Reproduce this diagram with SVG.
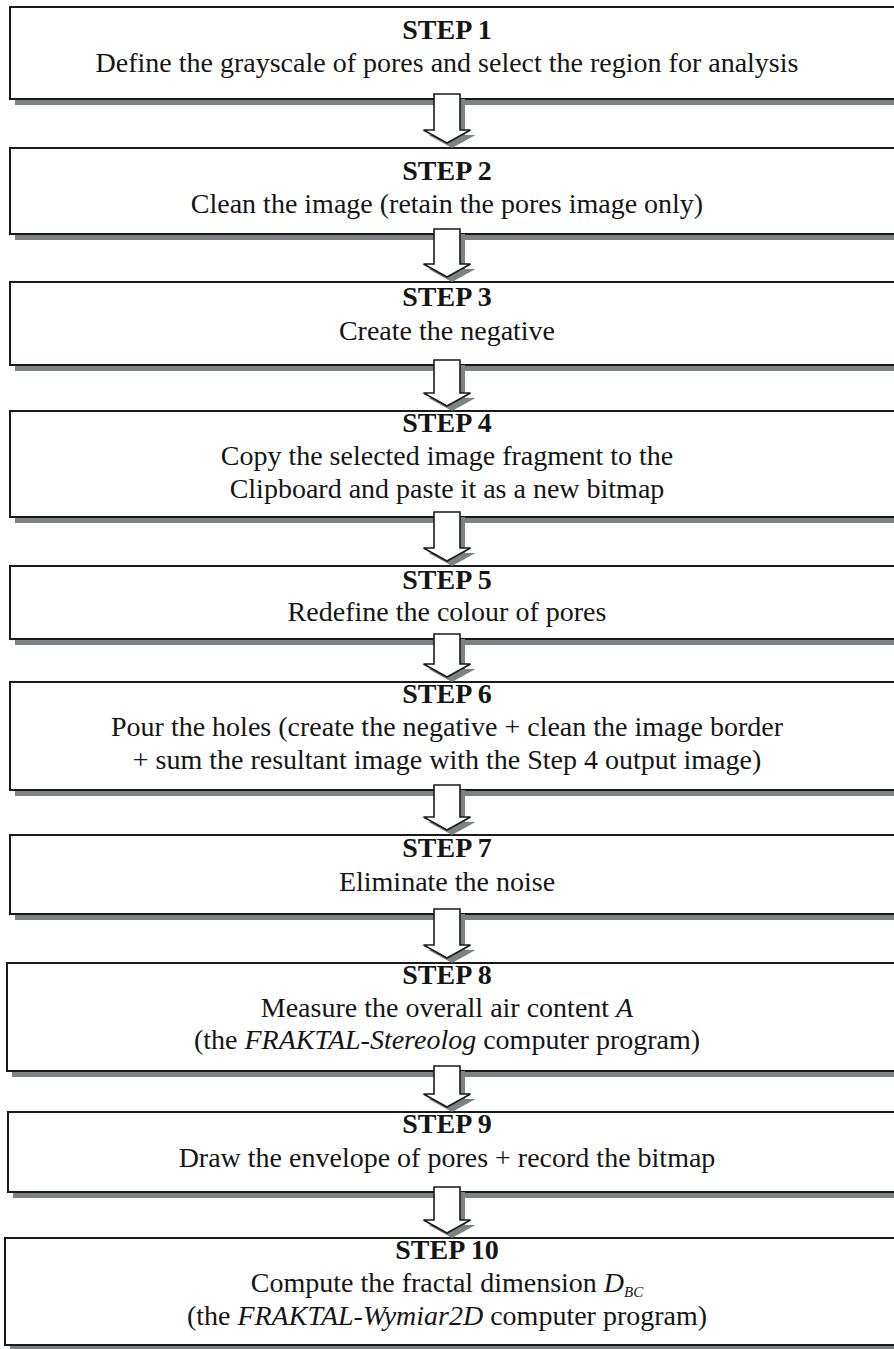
<svg xmlns="http://www.w3.org/2000/svg" width="894" height="1349" viewBox="0 0 894 1349">
<style>
.sh{fill:#7b8384}
.bx{fill:#fff;stroke:#1a1a1a;stroke-width:2}
.t{font-family:"Liberation Serif","Times New Roman",serif;font-size:28px;fill:#151515;text-anchor:middle}
.b{font-weight:bold}
.i{font-style:italic}
.ar{fill:#fff;stroke:#1a1a1a;stroke-width:1.6;stroke-linejoin:miter}
.as{fill:#7b8384}
</style>
<rect width="894" height="1349" fill="#fff"/>
<g id="step1">
<rect class="sh" x="15" y="13" width="900" height="92"/>
<rect class="bx" x="10" y="7" width="900" height="92"/>
<text class="t b" x="447" y="39">STEP 1</text>
<text class="t" x="447" y="72">Define the grayscale of pores and select the region for analysis</text>
</g>
<g id="step2">
<rect class="sh" x="15" y="154" width="900" height="86"/>
<rect class="bx" x="10" y="148" width="900" height="86"/>
<text class="t b" x="447" y="180">STEP 2</text>
<text class="t" x="447" y="213">Clean the image (retain the pores image only)</text>
</g>
<g id="step3">
<rect class="sh" x="15" y="288" width="900" height="83"/>
<rect class="bx" x="10" y="282" width="900" height="83"/>
<text class="t b" x="447" y="306">STEP 3</text>
<text class="t" x="447" y="340">Create the negative</text>
</g>
<g id="step4">
<rect class="sh" x="15" y="417" width="900" height="106"/>
<rect class="bx" x="10" y="411" width="900" height="106"/>
<text class="t b" x="447" y="432">STEP 4</text>
<text class="t" x="447" y="465">Copy the selected image fragment to the</text>
<text class="t" x="447" y="498">Clipboard and paste it as a new bitmap</text>
</g>
<g id="step5">
<rect class="sh" x="15" y="572" width="900" height="73"/>
<rect class="bx" x="10" y="566" width="900" height="73"/>
<text class="t b" x="447" y="589">STEP 5</text>
<text class="t" x="447" y="621">Redefine the colour of pores</text>
</g>
<g id="step6">
<rect class="sh" x="15" y="688" width="900" height="108"/>
<rect class="bx" x="10" y="682" width="900" height="108"/>
<text class="t b" x="447" y="703">STEP 6</text>
<text class="t" x="447" y="736">Pour the holes (create the negative + clean the image border</text>
<text class="t" x="447" y="769">+ sum the resultant image with the Step 4 output image)</text>
</g>
<g id="step7">
<rect class="sh" x="15" y="841" width="900" height="79"/>
<rect class="bx" x="10" y="835" width="900" height="79"/>
<text class="t b" x="447" y="857">STEP 7</text>
<text class="t" x="447" y="891">Eliminate the noise</text>
</g>
<g id="step8">
<rect class="sh" x="12" y="969" width="900" height="108"/>
<rect class="bx" x="7" y="963" width="900" height="108"/>
<text class="t b" x="447" y="984">STEP 8</text>
<text class="t" x="447" y="1017">Measure the overall air content <tspan class="i">A</tspan></text>
<text class="t" x="447" y="1049">(the <tspan class="i">FRAKTAL-Stereolog</tspan> computer program)</text>
</g>
<g id="step9">
<rect class="sh" x="13" y="1118" width="900" height="80"/>
<rect class="bx" x="8" y="1112" width="900" height="80"/>
<text class="t b" x="447" y="1133">STEP 9</text>
<text class="t" x="447" y="1167">Draw the envelope of pores + record the bitmap</text>
</g>
<g id="step10">
<rect class="sh" x="10" y="1244" width="900" height="107"/>
<rect class="bx" x="5" y="1238" width="900" height="107"/>
<text class="t b" x="447" y="1259">STEP 10</text>
<text class="t" x="447" y="1292">Compute the fractal dimension <tspan class="i">D</tspan><tspan class="i" font-size="15" dy="5">BC</tspan></text>
<text class="t" x="447" y="1325">(the <tspan class="i">FRAKTAL-Wymiar2D</tspan> computer program)</text>
</g>
<g id="connectors">
<g transform="translate(5,5)">
<path class="as" d="M434,94H460V130H470.5L447,143L423.5,130H434Z"/>
<path class="as" d="M434,229H460V264H470.5L447,277L423.5,264H434Z"/>
<path class="as" d="M434,360H460V393H470.5L447,406L423.5,393H434Z"/>
<path class="as" d="M434,512H460V548H470.5L447,561L423.5,548H434Z"/>
<path class="as" d="M434,634H460V664H470.5L447,677L423.5,664H434Z"/>
<path class="as" d="M434,785H460V817H470.5L447,830L423.5,817H434Z"/>
<path class="as" d="M434,909H460V945H470.5L447,958L423.5,945H434Z"/>
<path class="as" d="M434,1066H460V1094H470.5L447,1107L423.5,1094H434Z"/>
<path class="as" d="M434,1187H460V1220H470.5L447,1233L423.5,1220H434Z"/>
</g>
<path class="ar" d="M434,94H460V130H470.5L447,143L423.5,130H434Z"/>
<path class="ar" d="M434,229H460V264H470.5L447,277L423.5,264H434Z"/>
<path class="ar" d="M434,360H460V393H470.5L447,406L423.5,393H434Z"/>
<path class="ar" d="M434,512H460V548H470.5L447,561L423.5,548H434Z"/>
<path class="ar" d="M434,634H460V664H470.5L447,677L423.5,664H434Z"/>
<path class="ar" d="M434,785H460V817H470.5L447,830L423.5,817H434Z"/>
<path class="ar" d="M434,909H460V945H470.5L447,958L423.5,945H434Z"/>
<path class="ar" d="M434,1066H460V1094H470.5L447,1107L423.5,1094H434Z"/>
<path class="ar" d="M434,1187H460V1220H470.5L447,1233L423.5,1220H434Z"/>
</g>
</svg>
